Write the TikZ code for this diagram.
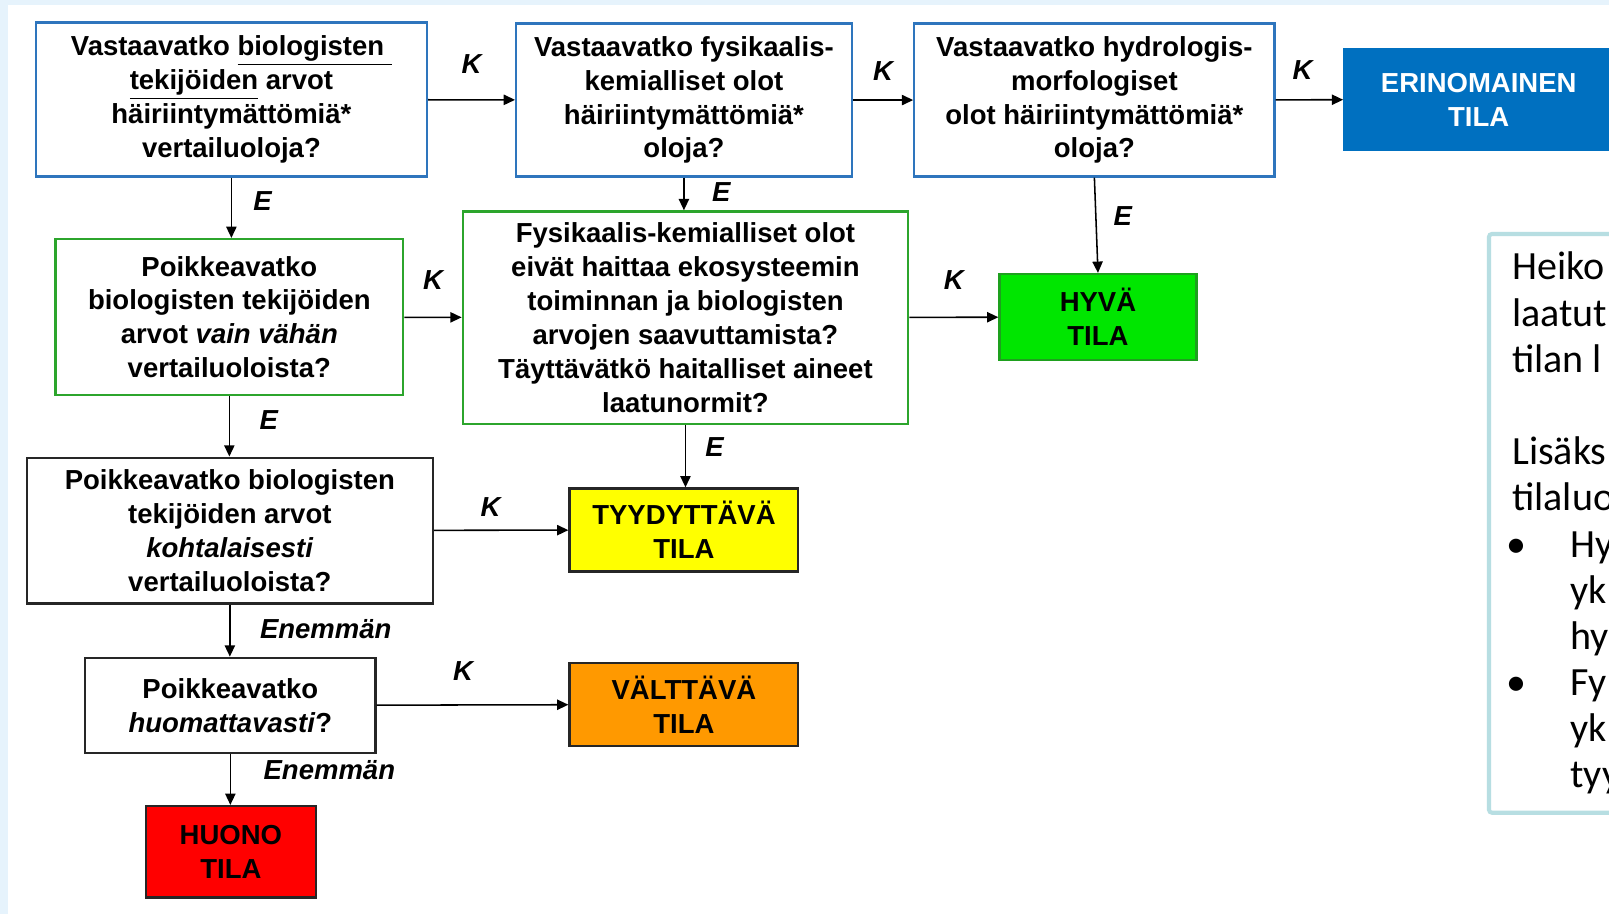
\documentclass[tikz,border=0pt]{standalone}
\usepackage{fontspec}
\setmainfont{Liberation Sans}
\newfontfamily\notefont{Carlito}
\usetikzlibrary{arrows.meta, positioning}
\definecolor{bgblue}{RGB}{230,243,252}
\definecolor{qblue}{RGB}{46,117,189}
\definecolor{qgreen}{RGB}{44,165,44}
\definecolor{erinblue}{RGB}{0,112,192}
\definecolor{hyvagreen}{RGB}{0,230,0}
\definecolor{hyvaedge}{RGB}{30,160,30}
\definecolor{tyydyellow}{RGB}{255,255,0}
\definecolor{valtorange}{RGB}{255,153,0}
\definecolor{huonored}{RGB}{255,0,0}
\definecolor{noteedge}{RGB}{183,222,226}
\tikzset{
    flowchart/.style={x=0.5pt, y=-0.5pt, >={Triangle[length=5.5pt,width=5pt]}, line width=0.75pt,
        font=\fontsize{13.4}{16.5}\selectfont\bfseries},
    question/.style={draw, line width=1.1pt, align=center, inner sep=0pt},
    bluebox/.style={question, draw=qblue},
    greenbox/.style={question, draw=qgreen},
    blackbox/.style={question, draw=black!85},
    state/.style={question, draw=black!85},
    answer/.style={font=\fontsize{13.4}{16.5}\selectfont\bfseries\itshape},
    % note box on the right, cut by the edge of the picture
    notebox/.style={draw=noteedge, line width=2pt, rounded corners=1.5pt},
    notetext/.style={align=left, inner sep=0pt, font=\notefont\fontsize{19.5}{22.5}\selectfont},
}

\begin{document}
\begin{tikzpicture}[flowchart]
    \useasboundingbox (0,0) rectangle (1568,891);
    \clip (0,0) rectangle (1568,891);
    \fill[bgblue] (0,0) rectangle (1568,891);
    \fill[white] (8,5) rectangle (1568,891);

    % questions
    \node[bluebox, minimum width=190.5pt, minimum height=75pt] (biol) at (225.5,97)
        {Vastaavatko \underline{biologisten\ }\\\underline{tekijöiden} arvot\\häiriintymättömiä*\\vertailuoloja?};
    \node[bluebox, minimum width=163.5pt, minimum height=74.5pt] (fyskem) at (666.5,97.5)
        {Vastaavatko fysikaalis-\\kemialliset olot\\häiriintymättömiä*\\oloja?};
    \node[bluebox, minimum width=175.5pt, minimum height=74.5pt] (hydro) at (1066.5,97.5)
        {Vastaavatko hydrologis-\\morfologiset\\olot häiriintymättömiä*\\oloja?};
    \node[greenbox, minimum width=169.5pt, minimum height=76pt] (vain) at (223.5,309)
        {Poikkeavatko\\biologisten tekijöiden\\arvot \textit{vain vähän}\\vertailuoloista?};
    \node[greenbox, minimum width=217pt, minimum height=103.5pt] (haitta) at (668,309.5)
        {Fysikaalis-kemialliset olot\\eivät haittaa ekosysteemin\\toiminnan ja biologisten\\arvojen saavuttamista?\\Täyttävätkö haitalliset aineet\\laatunormit?};
    \node[blackbox, minimum width=198pt, minimum height=71pt] (kohtal) at (224,517)
        {Poikkeavatko biologisten\\tekijöiden arvot\\\textit{kohtalaisesti}\\vertailuoloista?};
    \node[blackbox, minimum width=141.5pt, minimum height=46.5pt] (huom) at (224.5,687.5)
        {Poikkeavatko\\\textit{huomattavasti}?};

    % states
    \node[state, draw=erinblue, fill=erinblue, text=white, minimum width=131pt, minimum height=49pt] (erin) at (1441,97)
        {ERINOMAINEN\\TILA};
    \node[state, draw=hyvaedge, fill=hyvagreen, minimum width=96pt, minimum height=42pt] (hyva) at (1070,309)
        {HYVÄ\\TILA};
    \node[state, fill=tyydyellow, minimum width=111.5pt, minimum height=40.5pt] (tyyd) at (666.5,516.5)
        {TYYDYTTÄVÄ\\TILA};
    \node[state, fill=valtorange, minimum width=111.5pt, minimum height=40.5pt] (valt) at (666.5,686.5)
        {VÄLTTÄVÄ\\TILA};
    \node[state, fill=huonored, minimum width=83pt, minimum height=44.5pt] (huono) at (225,830)
        {HUONO\\TILA};

    % K = kyllä
    \draw[->] (biol) -- node[answer, above=9pt] {K} (fyskem);
    \draw[->] (fyskem) -- node[answer, above=6pt] {K} (hydro);
    \draw[->] (hydro) -- node[answer, pos=0.4, above=6pt] {K} (erin);
    \draw[->] (vain) -- node[answer, above=10pt] {K} (haitta);
    \draw[->] (haitta) -- node[answer, above=10pt] {K} (hyva);
    \draw[->] (kohtal) -- node[answer, pos=0.42, above=3pt] {K} (tyyd);
    \draw[->] (huom) -- node[answer, pos=0.45, above=8pt] {K} (valt);

    % E = ei
    \draw[->] (biol.south) -- node[answer, pos=0.39, right=7pt] {E} (biol.south |- vain.north);
    \draw[->] (fyskem.south) -- node[answer, pos=0.44, right=10pt] {E} (fyskem.south |- haitta.north);
    \draw[->] (hydro.south) -- node[answer, pos=0.4, right=5pt] {E} (hyva.north);
    \draw[->] (vain.south) -- node[answer, pos=0.39, right=11pt] {E} (vain.south |- kohtal.north);
    \draw[->] (haitta.south) -- node[answer, pos=0.36, right=6pt] {E} (haitta.south |- tyyd.north);
    \draw[->] (kohtal.south) -- node[answer, pos=0.47, right=11pt] {Enemmän} (kohtal.south |- huom.north);
    \draw[->] (huom.south) -- node[answer, pos=0.31, right=12.5pt] {Enemmän} (huom.south |- huono.north);

    % note
    \draw[notebox] (1451,228) rectangle (1620,792);
    \node[notetext, anchor=north west] (note) at (1473,245)
        {Heiko\\laatut\\tilan l\\\mbox{}\\Lisäks\\tilaluo\\
         \hspace*{-2.6pt}\makebox[31pt][l]{•}Hy\\\hspace*{28.4pt}yk\\\hspace*{28.4pt}hy\\
         \hspace*{-2.6pt}\makebox[31pt][l]{•}Fy\\\hspace*{28.4pt}yk\\\hspace*{28.4pt}tyy};
\end{tikzpicture}
\end{document}
